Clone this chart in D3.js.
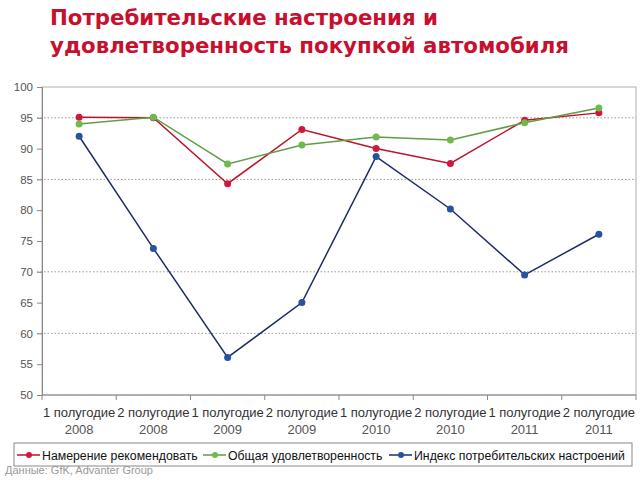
<!DOCTYPE html>
<html>
<head>
<meta charset="utf-8">
<script src="https://cdn.jsdelivr.net/npm/d3@7.9.0/dist/d3.min.js"></script>
<style>
  body { margin: 0; background: #fff; }
  svg { display: block; font-family: "Liberation Sans", Arial, sans-serif; }
</style>
</head>
<body>
<svg id="chart" width="640" height="480"></svg>
<script>
const halves = ['1 полугодие', '2 полугодие', '1 полугодие', '2 полугодие', '1 полугодие', '2 полугодие', '1 полугодие', '2 полугодие'];
const years = ['2008', '2008', '2009', '2009', '2010', '2010', '2011', '2011'];
const recommend = [95.1, 95.0, 84.3, 93.1, 90.0, 87.6, 94.6, 95.8];
const satisfaction = [94.0, 95.1, 87.5, 90.6, 91.9, 91.4, 94.2, 96.6];
const sentiment = [92.0, 73.8, 56.1, 65.0, 88.7, 80.2, 69.5, 76.1];
const yTicks = [50, 55, 60, 65, 70, 75, 80, 85, 90, 95, 100];
const gridValues = [95, 85, 70, 60];

const series = [
  { name: 'Намерение рекомендовать', values: recommend, line: '#b8142f', dot: '#d3173c' },
  { name: 'Общая удовлетворенность', values: satisfaction, line: '#5f9e44', dot: '#6fba4c' },
  { name: 'Индекс потребительских настроений', values: sentiment, line: '#1f2d66', dot: '#2453a0' }
];

const svg = d3.select('#chart');
const plotLeft = 42, plotRight = 636, plotTop = 87, plotBottom = 395;

// title
svg.append('text')
  .attr('x', 50).attr('y', 25)
  .attr('fill', '#c8102e')
  .attr('font-size', 21.3).attr('font-weight', 'bold')
  .attr('font-family', '"DejaVu Sans", sans-serif')
  .text('Потребительские настроения и');
svg.append('text')
  .attr('x', 50).attr('y', 53)
  .attr('fill', '#c8102e')
  .attr('font-size', 21.3).attr('font-weight', 'bold')
  .attr('font-family', '"DejaVu Sans", sans-serif')
  .text('удовлетворенность покупкой автомобиля');

let x = d3.scaleBand().domain(d3.range(halves.length)).range([plotLeft, plotRight]);
let y = d3.scaleLinear().domain([50, 100]).range([plotBottom, plotTop]);

// plot border
svg.append('rect')
  .attr('x', plotLeft).attr('y', plotTop)
  .attr('width', plotRight - plotLeft).attr('height', plotBottom - plotTop)
  .attr('fill', 'none').attr('stroke', '#b0b0b0');

// gridlines (only some levels are drawn in the original)
svg.selectAll('.grid')
  .data(gridValues)
  .join('line')
  .attr('x1', plotLeft - 5).attr('x2', plotRight)
  .attr('y1', d => y(d)).attr('y2', d => y(d))
  .attr('stroke', '#999').attr('stroke-dasharray', '1.5,2');

// y axis
let yAxis = svg.append('g')
  .attr('transform', `translate(${plotLeft},0)`)
  .call(d3.axisLeft(y).tickValues(yTicks).tickSize(5).tickPadding(4));
yAxis.select('.domain').attr('stroke', '#888');
yAxis.selectAll('.tick line').attr('stroke', '#888');
yAxis.selectAll('.tick text').attr('font-size', 11.5).attr('fill', '#555');

// x axis ticks between categories
svg.append('line')
  .attr('x1', plotLeft).attr('x2', plotRight)
  .attr('y1', plotBottom).attr('y2', plotBottom)
  .attr('stroke', '#888');
svg.selectAll('.xtick')
  .data(d3.range(halves.length + 1))
  .join('line')
  .attr('x1', d => plotLeft + d * x.step()).attr('x2', d => plotLeft + d * x.step())
  .attr('y1', plotBottom).attr('y2', plotBottom + 5)
  .attr('stroke', '#888');

let xLabels = svg.selectAll('.xlabel')
  .data(halves)
  .join('text')
  .attr('text-anchor', 'middle')
  .attr('font-size', 13).attr('fill', '#333');
xLabels.append('tspan').attr('x', (d, i) => x(i) + x.bandwidth() / 2).attr('y', 417).text(d => d);
xLabels.append('tspan').attr('x', (d, i) => x(i) + x.bandwidth() / 2).attr('y', 434).attr('fill', '#555').text((d, i) => years[i]);

// lines and markers
let line = d3.line()
  .x((d, i) => x(i) + x.bandwidth() / 2)
  .y(d => y(d));

series.forEach(s => {
  svg.append('path')
    .attr('d', line(s.values))
    .attr('fill', 'none')
    .attr('stroke', s.line)
    .attr('stroke-width', 1.5);
  svg.selectAll(null)
    .data(s.values)
    .join('circle')
    .attr('cx', (d, i) => x(i) + x.bandwidth() / 2)
    .attr('cy', d => y(d))
    .attr('r', 3.5)
    .attr('fill', s.dot);
});

// legend
svg.append('rect')
  .attr('x', 14).attr('y', 443)
  .attr('width', 618).attr('height', 23)
  .attr('fill', '#fff').attr('stroke', '#888');

const legendX = [17, 203, 389];
series.forEach((s, i) => {
  let g = svg.append('g').attr('transform', `translate(${legendX[i]},455)`);
  g.append('line').attr('x1', 0).attr('x2', 23).attr('stroke', s.line).attr('stroke-width', 1.5);
  g.append('circle').attr('cx', 12).attr('r', 3).attr('fill', s.dot);
  g.append('text').attr('x', 25).attr('y', 5).attr('font-size', 12.3).attr('fill', '#111').text(s.name);
});

svg.append('text')
  .attr('x', 5).attr('y', 474)
  .attr('font-size', 11).attr('fill', '#999')
  .text('Данные: GfK, Advanter Group');
</script>
</body>
</html>
